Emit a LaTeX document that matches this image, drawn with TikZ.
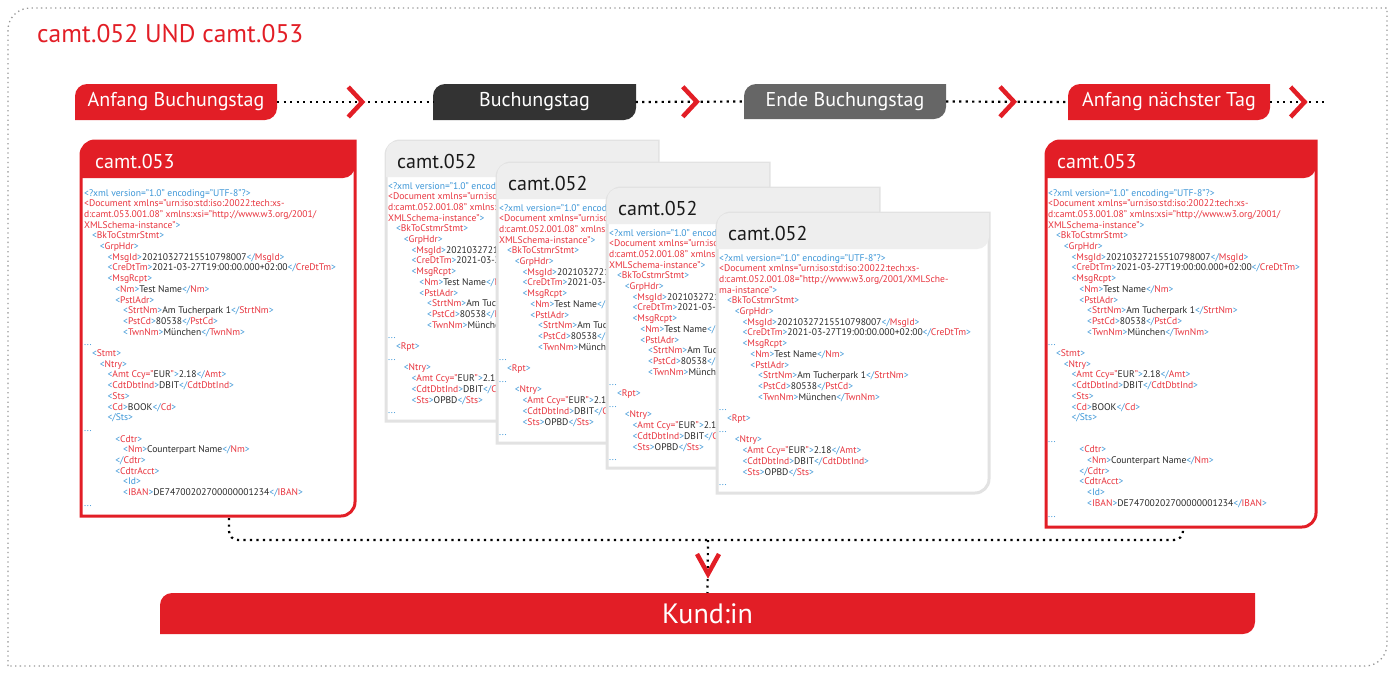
\documentclass[tikz,border=0pt]{standalone}
\usepackage{fontspec}
\setmainfont{PT Sans}
\usetikzlibrary{positioning,calc}

\definecolor{sred}{RGB}{226,30,38}
\definecolor{sdark}{RGB}{51,51,51}
\definecolor{sgrey}{RGB}{102,102,102}
\definecolor{docgrey}{RGB}{226,226,226}
\definecolor{hdrgrey}{RGB}{238,238,238}
\definecolor{framegrey}{RGB}{150,150,150}
\definecolor{xblue}{RGB}{60,150,215}
\definecolor{xred}{RGB}{232,52,62}
\definecolor{xtxt}{RGB}{40,40,40}

\newcommand\xmlfont{\fontsize{9.6}{10.7}\selectfont}
\newlength\xindent
\setlength\xindent{7.8pt}
\newcommand\lvl[1]{\hspace*{#1\xindent}}
\newcommand\tgo[1]{\textcolor{xblue}{<}\textcolor{xred}{#1}\textcolor{xblue}{>}}
\newcommand\tgc[1]{\textcolor{xblue}{</}\textcolor{xred}{#1}\textcolor{xblue}{>}}
\newcommand\tgd{\textcolor{xblue}{...}}
\newcommand\amtline{\textcolor{xblue}{<}\textcolor{xred}{Amt Ccy="}EUR\textcolor{xred}{"}\textcolor{xblue}{>}2.18\tgc{Amt}}

% box with rounded top left and bottom right corner: x1, y1 (top), x2, y2 (bottom), radius
\newcommand\cutbox[5]{(#1,#4) [rounded corners=#5] -- (#1,#2) [sharp corners] -- (#3,#2) [rounded corners=#5] -- (#3,#4) [sharp corners] -- (#1,#4) -- cycle}

% xml head, #1 and #2 = the two lines after "tech:xs-"
\newcommand\xmlhead[2]{%
\textcolor{xblue}{<?xml version="1.0" encoding="UTF-8"?>}\\
\textcolor{xred}{<Document xmlns="urn:iso:std:iso:20022:tech:xs-}\\
\textcolor{xred}{#1}\\
\textcolor{xred}{#2}\textcolor{xblue}{>}\\
\lvl1\tgo{BkToCstmrStmt}\\
\lvl2\tgo{GrpHdr}\\
\lvl3\tgo{MsgId}20210327215510798007\tgc{MsgId}\\
\lvl3\tgo{CreDtTm}2021-03-27T19:00:00.000+02:00\tgc{CreDtTm}\\
\lvl3\tgo{MsgRcpt}\\
\lvl4\tgo{Nm}Test Name\tgc{Nm}\\
\lvl4\tgo{PstlAdr}\\
\lvl5\tgo{StrtNm}Am Tucherpark 1\tgc{StrtNm}\\
\lvl5\tgo{PstCd}80538\tgc{PstCd}\\
\lvl5\tgo{TwnNm}München\tgc{TwnNm}\\
\tgd}

% camt.052 report part
\newcommand\xmlrpt{%
\lvl1\tgo{Rpt}\\
\tgd\\
\lvl2\tgo{Ntry}\\
\lvl3\amtline\\
\lvl3\tgo{CdtDbtInd}DBIT\tgc{CdtDbtInd}\\
\lvl3\tgo{Sts}OPBD\tgc{Sts}\\
\tgd}

% camt.053 statement part, #1 = extra space before the dots
\newcommand\xmlstmt[1]{%
\lvl1\tgo{Stmt}\\
\lvl2\tgo{Ntry}\\
\lvl3\amtline\\
\lvl3\tgo{CdtDbtInd}DBIT\tgc{CdtDbtInd}\\
\lvl3\tgo{Sts}\\
\lvl3\tgo{Cd}BOOK\tgc{Cd}\\
\lvl3\textcolor{xblue}{</Sts>}\\#1
\tgd\\
\lvl4\tgo{Cdtr}\\
\lvl5\tgo{Nm}Counterpart Name\tgc{Nm}\\
\lvl4\tgc{Cdtr}\\
\lvl4\tgo{CdtrAcct}\\
\lvl5\textcolor{xblue}{<Id>}\\
\lvl5\tgo{IBAN}DE74700202700000001234\tgc{IBAN}\\
\tgd}

% grey camt.052 sheet: x, y (top left), name, lines 3 and 4 of the head
\newcommand\graydoc[5]{%
\filldraw[fill=white, draw=docgrey, line width=3pt] \cutbox{#1}{#2}{#1+272}{#2+280}{14pt};
\fill[hdrgrey] \cutbox{#1}{#2}{#1+272}{#2+36}{12pt};
\node[dochead, text=black!90] (#3h) at (#1+11,#2+27) {camt.052};
\begin{scope}
\clip (#1,#2+37) rectangle (#1+270,#2+278);
\node[xml] (#3) at (#1+2,#2+41) {\xmlhead{#4}{#5}\\ \xmlrpt};
\end{scope}}

\begin{document}
\begin{tikzpicture}[x=1pt, y=-1pt,
    tagbox/.style={minimum width=202pt, minimum height=36pt, inner sep=0pt, text=white, font=\fontsize{20}{23}\selectfont},
    dochead/.style={anchor=base west, inner sep=0pt, font=\fontsize{20}{24}\selectfont},
    xml/.style={anchor=north west, inner sep=0pt, align=left, text=xtxt, font=\xmlfont},
    dots/.style={black, line width=2.2pt, dash pattern=on 2.2pt off 4.3pt},
    chev/.pic={\draw[sred, line width=4.5pt] (-7,-15) -- (7,0) -- (-7,15);},
    chevdown/.pic={\draw[sred, line width=4.5pt] (-11,-10) -- (0,10) -- (11,-10);}
]

\useasboundingbox (0,0) rectangle (1394,672);

% Frame
\draw[framegrey, line width=1.3pt, dash pattern=on 1.3pt off 3.4pt] \cutbox{8}{8}{1387}{666}{22pt};

\node[anchor=base west, inner sep=0pt, text=sred, font=\fontsize{25.5}{30}\selectfont] (title) at (37,42) {camt.052 UND camt.053};

% Timeline
\fill[sred] \cutbox{75}{84}{277}{120}{12pt};
\node[tagbox] (start) at (176,102) {Anfang Buchungstag};

\fill[sdark] \cutbox{433}{84}{636}{120}{12pt};
\node[tagbox] (day) at (534.5,102) {Buchungstag};

\fill[sgrey] \cutbox{744}{84}{946}{119}{12pt};
\node[tagbox] (end) at (845,101.5) {Ende Buchungstag};

\fill[sred] \cutbox{1068}{84}{1270}{120}{12pt};
\node[tagbox] (next) at (1169,102) {Anfang nächster Tag};

\coordinate (tlend) at (1325,102);

\draw[dots] (start.east) -- (day.west);
\draw[dots] (day.east) -- (end.west);
\draw[dots] (end.east) -- (next.west);
\draw[dots] (next.east) -- (tlend);

\pic at ($(start.east)!0.5!(day.west)$) {chev};
\pic at ($(day.east)!0.5!(end.west)$) {chev};
\pic at ($(end.east)!0.5!(next.west)$) {chev};
\pic at ($(next.east)!0.5!(tlend)$) {chev};

% camt.053 start of day
\filldraw[fill=white, draw=sred, line width=3pt] \cutbox{81}{141}{355}{516}{14pt};
\fill[sred] \cutbox{81}{141}{355}{178}{12pt};
\node[dochead, text=white] (h053a) at (95,168) {camt.053};
\node[xml] (x053a) at (84,189) {\xmlhead{d:camt.053.001.08" xmlns:xsi="http://www.w3.org/2001/}{XMLSchema-instance"}\\ \xmlstmt{}};

% camt.052 during the day
\graydoc{386}{141}{x052a}{d:camt.052.001.08" xmlns:xsi="http://www.w3.org/2001/}{XMLSchema-instance"}
\graydoc{497}{163}{x052b}{d:camt.052.001.08" xmlns:xsi="http://www.w3.org/2001/}{XMLSchema-instance"}
\graydoc{607}{188}{x052c}{d:camt.052.001.08" xmlns:xsi="http://www.w3.org/2001/}{XMLSchema-instance"}
\graydoc{717}{213}{x052d}{d:camt.052.001.08="http://www.w3.org/2001/XMLSche-}{ma-instance"}

% camt.053 next day
\filldraw[fill=white, draw=sred, line width=3pt] \cutbox{1046}{141}{1316}{527}{14pt};
\fill[sred] \cutbox{1046}{141}{1316}{178}{12pt};
\node[dochead, text=white] (h053b) at (1057,168) {camt.053};
\node[xml] (x053b) at (1048,189) {\xmlhead{d:camt.053.001.08" xmlns:xsi="http://www.w3.org/2001/}{XMLSchema-instance"}\\ \xmlstmt{\mbox{}\\}};

% Kund:in
\fill[sred] \cutbox{160}{593}{1255}{634}{12pt};
\node[minimum width=1095pt, minimum height=41pt, inner sep=0pt, text=white, font=\fontsize{28}{32}\selectfont] (kundin) at (707.5,613.5) {Kund:in};

\coordinate (lb) at (229,518);
\coordinate (rb) at (1183,529);
\coordinate (hub) at (708,540);

\draw[dots, rounded corners=9pt] (lb) |- (hub) -| (rb);
\draw[dots] (hub) -- (kundin.north);
\pic at (708,564) {chevdown};

\end{tikzpicture}
\end{document}
